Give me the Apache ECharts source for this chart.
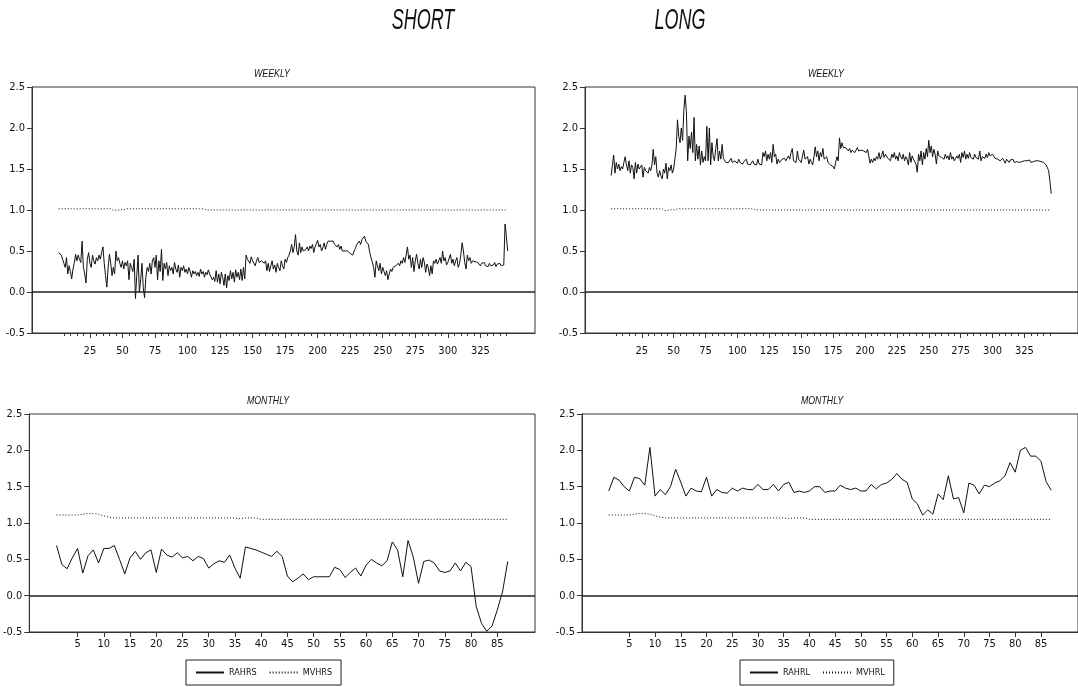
<!DOCTYPE html>
<html>
<head>
<meta charset="utf-8">
<script src="https://cdn.jsdelivr.net/npm/echarts@6/dist/echarts.min.js"></script>
<style>
html,body{margin:0;padding:0;background:#fff;}
#chart{width:1078px;height:687px;}
</style>
</head>
<body>
<div id="chart"></div>
<script>
// ---------- tick labels ----------
const weeklyTicks = [25,50,75,100,125,150,175,200,225,250,275,300,325];
const weeklyMinorTicks = [5,10,15,20,25,30,35,40,45,50,55,60,65,70,75,80,85,90,95,100,105,110,115,120,125,130,135,140,145,150,155,160,165,170,175,180,185,190,195,200,205,210,215,220,225,230,235,240,245,250,255,260,265,270,275,280,285,290,295,300,305,310,315,320,325,330,335,340,345];
const monthlyTicks = [5,10,15,20,25,30,35,40,45,50,55,60,65,70,75,80,85];

// ---------- WEEKLY, SHORT ----------
const rahrsWeekly = [
0.48,0.46,0.45,0.40,0.35,0.30,0.42,0.22,0.32,0.25,
0.16,0.28,0.35,0.46,0.38,0.45,0.40,0.36,0.62,0.30,
0.22,0.11,0.40,0.48,0.35,0.30,0.45,0.38,0.34,0.42,
0.38,0.45,0.40,0.48,0.55,0.35,0.20,0.06,0.30,0.46,
0.35,0.20,0.30,0.22,0.50,0.38,0.42,0.35,0.30,0.38,
0.28,0.36,0.32,0.38,0.15,0.35,0.30,0.25,0.40,-0.08,
0.20,0.45,0.00,0.15,0.35,0.05,-0.07,0.18,0.30,0.25,
0.35,0.22,0.38,0.42,0.30,0.45,0.15,0.38,0.25,0.52,
0.14,0.35,0.28,0.36,0.20,0.32,0.26,0.30,0.22,0.36,
0.28,0.24,0.33,0.18,0.30,0.26,0.32,0.24,0.28,0.22,
0.30,0.25,0.18,0.26,0.22,0.25,0.20,0.24,0.19,0.28,
0.22,0.25,0.18,0.24,0.21,0.27,0.22,0.20,0.15,0.18,
0.13,0.26,0.12,0.22,0.10,0.24,0.18,0.08,0.22,0.05,
0.20,0.14,0.26,0.16,0.24,0.12,0.27,0.18,0.24,0.15,
0.28,0.14,0.30,0.16,0.45,0.40,0.42,0.35,0.43,0.38,
0.40,0.32,0.38,0.42,0.36,0.34,0.38,0.40,0.35,0.38,
0.26,0.35,0.25,0.32,0.38,0.28,0.33,0.24,0.35,0.30,
0.26,0.38,0.32,0.28,0.40,0.36,0.42,0.45,0.50,0.58,
0.48,0.55,0.70,0.50,0.45,0.60,0.48,0.55,0.50,0.48,
0.52,0.55,0.50,0.56,0.53,0.58,0.48,0.55,0.57,0.63,
0.55,0.58,0.50,0.54,0.60,0.52,0.58,0.62,0.60,0.62,
0.63,0.62,0.58,0.60,0.55,0.58,0.52,0.56,0.50,0.52,
0.50,0.48,0.50,0.49,0.47,0.46,0.45,0.50,0.53,0.58,
0.60,0.62,0.58,0.64,0.65,0.68,0.62,0.64,0.58,0.48,
0.42,0.36,0.30,0.18,0.38,0.32,0.26,0.35,0.22,0.30,
0.25,0.20,0.26,0.15,0.22,0.28,0.25,0.30,0.28,0.32,
0.30,0.35,0.32,0.38,0.35,0.42,0.36,0.45,0.55,0.40,
0.45,0.30,0.42,0.25,0.38,0.46,0.35,0.28,0.40,0.30,
0.42,0.36,0.24,0.34,0.30,0.20,0.32,0.22,0.38,0.35,
0.40,0.34,0.38,0.42,0.35,0.50,0.38,0.42,0.33,0.36,
0.38,0.46,0.35,0.40,0.32,0.38,0.42,0.30,0.35,0.45,
0.60,0.50,0.36,0.28,0.45,0.38,0.42,0.35,0.38,0.36,
0.37,0.35,0.36,0.34,0.32,0.35,0.33,0.36,0.32,0.34,
0.31,0.35,0.32,0.34,0.33,0.36,0.31,0.34,0.33,0.35,
0.32,0.31,0.33,0.83,0.68,0.50
];
const mvhrsWeekly = [
1.015,1.015,1.015,1.015,1.015,1.015,1.015,1.015,1.015,1.015,
1.015,1.015,1.015,1.015,1.015,1.015,1.015,1.015,1.015,1.015,
1.015,1.015,1.015,1.015,1.015,1.015,1.015,1.015,1.015,1.015,
1.015,1.015,1.015,1.015,1.015,1.015,1.015,1.015,1.015,1.015,
1.015,1.00,0.995,1.00,0.995,1.00,1.00,0.995,1.005,1.00,
1.00,1.02,1.015,1.015,1.015,1.015,1.015,1.015,1.015,1.015,
1.015,1.015,1.015,1.015,1.015,1.015,1.015,1.015,1.015,1.015,
1.015,1.015,1.015,1.015,1.015,1.015,1.015,1.015,1.015,1.015,
1.015,1.015,1.015,1.015,1.015,1.015,1.015,1.015,1.015,1.015,
1.015,1.015,1.015,1.015,1.015,1.015,1.015,1.015,1.015,1.015,
1.015,1.015,1.015,1.015,1.015,1.015,1.015,1.015,1.015,1.015,
1.015,1.02,1.01,1.00,1.00,1.00,1.00,1.00,1.00,1.00,
1.00,1.00,1.00,1.00,1.00,1.00,1.00,1.00,1.00,1.00,
1.00,1.00,1.00,1.00,1.00,1.00,1.00,1.00,1.00,1.00,
1.00,1.00,1.00,1.00,1.00,1.00,1.00,1.00,1.00,1.00,
1.00,1.00,1.00,1.00,1.00,1.00,1.00,1.00,1.00,1.00,
1.00,1.00,1.00,1.00,1.00,1.00,1.00,1.00,1.00,1.00,
1.00,1.00,1.00,1.00,1.00,1.00,1.00,1.00,1.00,1.00,
1.00,1.00,1.00,1.00,1.00,1.00,1.00,1.00,1.00,1.00,
1.00,1.00,1.00,1.00,1.00,1.00,1.00,1.00,1.00,1.00,
1.00,1.00,1.00,1.00,1.00,1.00,1.00,1.00,1.00,1.00,
1.00,1.00,1.00,1.00,1.00,1.00,1.00,1.00,1.00,1.00,
1.00,1.00,1.00,1.00,1.00,1.00,1.00,1.00,1.00,1.00,
1.00,1.00,1.00,1.00,1.00,1.00,1.00,1.00,1.00,1.00,
1.00,1.00,1.00,1.00,1.00,1.00,1.00,1.00,1.00,1.00,
1.00,1.00,1.00,1.00,1.00,1.00,1.00,1.00,1.00,1.00,
1.00,1.00,1.00,1.00,1.00,1.00,1.00,1.00,1.00,1.00,
1.00,1.00,1.00,1.00,1.00,1.00,1.00,1.00,1.00,1.00,
1.00,1.00,1.00,1.00,1.00,1.00,1.00,1.00,1.00,1.00,
1.00,1.00,1.00,1.00,1.00,1.00,1.00,1.00,1.00,1.00,
1.00,1.00,1.00,1.00,1.00,1.00,1.00,1.00,1.00,1.00,
1.00,1.00,1.00,1.00,1.00,1.00,1.00,1.00,1.00,1.00,
1.00,1.00,1.00,1.00,1.00,1.00,1.00,1.00,1.00,1.00,
1.00,1.00,1.00,1.00,1.00,1.00,1.00,1.00,1.00,1.00,
1.00,1.00,1.00,1.00,1.00,1.00
];

// ---------- WEEKLY, LONG ----------
const rahrlWeekly = [
1.42,1.55,1.67,1.45,1.58,1.50,1.56,1.48,1.53,1.50,
1.58,1.65,1.55,1.48,1.60,1.45,1.55,1.52,1.38,1.58,
1.45,1.56,1.50,1.48,1.55,1.40,1.52,1.48,1.50,1.45,
1.52,1.48,1.55,1.74,1.55,1.65,1.45,1.40,1.48,1.42,
1.38,1.50,1.45,1.57,1.38,1.52,1.48,1.55,1.45,1.50,
1.48,1.75,2.10,1.90,1.82,2.00,1.85,2.22,2.40,2.20,
1.60,1.90,1.75,1.95,1.70,2.13,1.60,1.80,1.62,1.78,
1.55,1.72,1.58,1.65,1.60,2.02,1.60,2.00,1.55,1.82,
1.65,1.60,1.75,1.87,1.60,1.72,1.62,1.80,1.63,1.62,
1.58,1.60,1.58,1.57,1.63,1.58,1.57,1.60,1.58,1.57,
1.62,1.58,1.60,1.56,1.59,1.58,1.62,1.56,1.58,1.55,
1.57,1.60,1.56,1.58,1.55,1.62,1.56,1.58,1.55,1.70,
1.65,1.72,1.60,1.68,1.62,1.70,1.58,1.80,1.65,1.68,
1.56,1.62,1.58,1.60,1.62,1.60,1.63,1.60,1.62,1.66,
1.62,1.70,1.75,1.60,1.62,1.58,1.72,1.62,1.60,1.58,
1.66,1.73,1.62,1.60,1.65,1.56,1.62,1.58,1.55,1.65,
1.77,1.65,1.72,1.60,1.70,1.65,1.75,1.62,1.60,1.65,
1.58,1.60,1.55,1.57,1.53,1.50,1.58,1.65,1.60,1.88,
1.75,1.82,1.76,1.78,1.76,1.77,1.72,1.75,1.70,1.73,
1.75,1.70,1.68,1.76,1.72,1.70,1.73,1.75,1.72,1.74,
1.70,1.74,1.72,1.57,1.62,1.58,1.63,1.60,1.65,1.62,
1.70,1.62,1.66,1.72,1.64,1.68,1.66,1.63,1.65,1.60,
1.68,1.64,1.70,1.62,1.66,1.60,1.70,1.65,1.62,1.68,
1.60,1.65,1.62,1.55,1.70,1.58,1.66,1.62,1.60,1.56,
1.46,1.68,1.60,1.72,1.55,1.70,1.62,1.75,1.65,1.85,
1.70,1.78,1.65,1.74,1.68,1.56,1.72,1.66,1.68,1.64,
1.65,1.62,1.68,1.63,1.66,1.61,1.70,1.62,1.65,1.60,
1.62,1.66,1.63,1.68,1.58,1.70,1.64,1.72,1.62,1.68,
1.63,1.70,1.64,1.66,1.62,1.68,1.64,1.66,1.62,1.72,
1.60,1.65,1.66,1.63,1.68,1.64,1.70,1.66,1.64,1.68,
1.66,1.63,1.65,1.62,1.64,1.60,1.62,1.63,1.60,1.57,
1.62,1.60,1.58,1.61,1.59,1.62,1.58,1.60,1.59,1.61,
1.58,1.60,1.59,1.61,1.60,1.58,1.60,1.59,1.61,1.58,
1.60,1.59,1.61,1.60,1.58,1.60,1.61,1.59,1.60,1.58,
1.56,1.55,1.54,1.48,1.35,1.20
];
const mvhrlWeekly = [
1.015,1.015,1.015,1.015,1.015,1.015,1.015,1.015,1.015,1.015,
1.015,1.015,1.015,1.015,1.015,1.015,1.015,1.015,1.015,1.015,
1.015,1.015,1.015,1.015,1.015,1.015,1.015,1.015,1.015,1.015,
1.015,1.015,1.015,1.015,1.015,1.015,1.015,1.015,1.015,1.015,
1.015,1.00,0.995,1.00,0.995,1.00,1.00,0.995,1.005,1.00,
1.00,1.02,1.015,1.015,1.015,1.015,1.015,1.015,1.015,1.015,
1.015,1.015,1.015,1.015,1.015,1.015,1.015,1.015,1.015,1.015,
1.015,1.015,1.015,1.015,1.015,1.015,1.015,1.015,1.015,1.015,
1.015,1.015,1.015,1.015,1.015,1.015,1.015,1.015,1.015,1.015,
1.015,1.015,1.015,1.015,1.015,1.015,1.015,1.015,1.015,1.015,
1.015,1.015,1.015,1.015,1.015,1.015,1.015,1.015,1.015,1.015,
1.015,1.02,1.01,1.00,1.00,1.00,1.00,1.00,1.00,1.00,
1.00,1.00,1.00,1.00,1.00,1.00,1.00,1.00,1.00,1.00,
1.00,1.00,1.00,1.00,1.00,1.00,1.00,1.00,1.00,1.00,
1.00,1.00,1.00,1.00,1.00,1.00,1.00,1.00,1.00,1.00,
1.00,1.00,1.00,1.00,1.00,1.00,1.00,1.00,1.00,1.00,
1.00,1.00,1.00,1.00,1.00,1.00,1.00,1.00,1.00,1.00,
1.00,1.00,1.00,1.00,1.00,1.00,1.00,1.00,1.00,1.00,
1.00,1.00,1.00,1.00,1.00,1.00,1.00,1.00,1.00,1.00,
1.00,1.00,1.00,1.00,1.00,1.00,1.00,1.00,1.00,1.00,
1.00,1.00,1.00,1.00,1.00,1.00,1.00,1.00,1.00,1.00,
1.00,1.00,1.00,1.00,1.00,1.00,1.00,1.00,1.00,1.00,
1.00,1.00,1.00,1.00,1.00,1.00,1.00,1.00,1.00,1.00,
1.00,1.00,1.00,1.00,1.00,1.00,1.00,1.00,1.00,1.00,
1.00,1.00,1.00,1.00,1.00,1.00,1.00,1.00,1.00,1.00,
1.00,1.00,1.00,1.00,1.00,1.00,1.00,1.00,1.00,1.00,
1.00,1.00,1.00,1.00,1.00,1.00,1.00,1.00,1.00,1.00,
1.00,1.00,1.00,1.00,1.00,1.00,1.00,1.00,1.00,1.00,
1.00,1.00,1.00,1.00,1.00,1.00,1.00,1.00,1.00,1.00,
1.00,1.00,1.00,1.00,1.00,1.00,1.00,1.00,1.00,1.00,
1.00,1.00,1.00,1.00,1.00,1.00,1.00,1.00,1.00,1.00,
1.00,1.00,1.00,1.00,1.00,1.00,1.00,1.00,1.00,1.00,
1.00,1.00,1.00,1.00,1.00,1.00,1.00,1.00,1.00,1.00,
1.00,1.00,1.00,1.00,1.00,1.00,1.00,1.00,1.00,1.00,
1.00,1.00,1.00,1.00,1.00,1.00
];

// ---------- MONTHLY, SHORT ----------
const rahrsMonthly = [
0.69,0.43,0.37,0.52,0.65,0.31,0.55,0.63,0.45,0.65,
0.65,0.69,0.50,0.30,0.52,0.61,0.50,0.59,0.63,0.32,
0.64,0.56,0.53,0.59,0.52,0.54,0.48,0.54,0.51,0.38,
0.44,0.48,0.46,0.56,0.38,0.24,0.67,0.65,0.63,0.60,
0.57,0.54,0.61,0.54,0.27,0.19,0.24,0.30,0.22,0.26,
0.26,0.26,0.26,0.39,0.36,0.25,0.32,0.38,0.27,0.42,
0.50,0.45,0.41,0.48,0.74,0.63,0.26,0.76,0.53,0.17,
0.47,0.49,0.45,0.34,0.32,0.34,0.45,0.34,0.46,0.40,
-0.15,-0.38,-0.49,-0.42,-0.20,0.05,0.47
];
const mvhrsMonthly = [
1.11,1.11,1.11,1.11,1.11,1.12,1.13,1.13,1.12,1.10,
1.08,1.07,1.07,1.07,1.07,1.07,1.07,1.07,1.07,1.07,
1.07,1.07,1.07,1.07,1.07,1.07,1.07,1.07,1.07,1.07,
1.07,1.07,1.07,1.07,1.07,1.06,1.07,1.07,1.07,1.05,
1.05,1.05,1.05,1.05,1.05,1.05,1.05,1.05,1.05,1.05,
1.05,1.05,1.05,1.05,1.05,1.05,1.05,1.05,1.05,1.05,
1.05,1.05,1.05,1.05,1.05,1.05,1.05,1.05,1.05,1.05,
1.05,1.05,1.05,1.05,1.05,1.05,1.05,1.05,1.05,1.05,
1.05,1.05,1.05,1.05,1.05,1.05,1.05
];

// ---------- MONTHLY, LONG ----------
const rahrlMonthly = [
1.44,1.63,1.59,1.50,1.44,1.63,1.61,1.52,2.04,1.37,
1.46,1.39,1.50,1.74,1.56,1.37,1.48,1.44,1.43,1.63,
1.37,1.46,1.42,1.41,1.48,1.44,1.48,1.46,1.46,1.53,
1.46,1.46,1.53,1.44,1.53,1.56,1.42,1.44,1.42,1.44,
1.50,1.50,1.42,1.44,1.44,1.52,1.48,1.46,1.48,1.44,
1.44,1.53,1.47,1.53,1.55,1.60,1.68,1.60,1.56,1.33,
1.26,1.11,1.18,1.12,1.40,1.32,1.65,1.33,1.35,1.14,
1.55,1.52,1.40,1.52,1.50,1.55,1.58,1.65,1.83,1.70,
2.00,2.04,1.92,1.92,1.85,1.57,1.45
];
const mvhrlMonthly = [
1.11,1.11,1.11,1.11,1.11,1.12,1.13,1.13,1.12,1.10,
1.08,1.07,1.07,1.07,1.07,1.07,1.07,1.07,1.07,1.07,
1.07,1.07,1.07,1.07,1.07,1.07,1.07,1.07,1.07,1.07,
1.07,1.07,1.07,1.07,1.07,1.06,1.07,1.07,1.07,1.05,
1.05,1.05,1.05,1.05,1.05,1.05,1.05,1.05,1.05,1.05,
1.05,1.05,1.05,1.05,1.05,1.05,1.05,1.05,1.05,1.05,
1.05,1.05,1.05,1.05,1.05,1.05,1.05,1.05,1.05,1.05,
1.05,1.05,1.05,1.05,1.05,1.05,1.05,1.05,1.05,1.05,
1.05,1.05,1.05,1.05,1.05,1.05,1.05
];

// ---------- chart ----------
const NARROW = "'Liberation Sans Narrow','Arial Narrow','DejaVu Sans Condensed','Liberation Sans',sans-serif";
const INK = '#111';
const toPairs = arr => arr.map((v, i) => [i + 1, v]);

const grids = [
  {left: 32,  top: 87,  width: 503, height: 246},
  {left: 585, top: 87,  width: 503, height: 246},
  {left: 29,  top: 414, width: 506, height: 218},
  {left: 582, top: 414, width: 506, height: 218}
].map(g => Object.assign({show: true, borderColor: '#333', borderWidth: 1, backgroundColor: 'transparent'}, g));

function mainX(gridIndex, weekly) {
  return {
    type: 'value', gridIndex, position: 'bottom',
    min: weekly ? -19.5 : -4.2,
    max: weekly ? 367 : 92.2,
    axisLine: {show: true, onZero: false, lineStyle: {color: '#333', width: 1}},
    axisTick: {show: true, customValues: weekly ? weeklyTicks : monthlyTicks, length: 5, lineStyle: {color: '#333'}},
    axisLabel: {show: true, customValues: weekly ? weeklyTicks : monthlyTicks, margin: weekly ? 13 : 7,
      fontSize: 11, fontFamily: NARROW, color: INK},
    splitLine: {show: false}
  };
}
function minorX(gridIndex) {
  return {
    type: 'value', gridIndex, position: 'bottom', offset: 0, min: -19.5, max: 367,
    axisLine: {show: false, onZero: false},
    axisTick: {show: true, customValues: weeklyMinorTicks, length: 3, lineStyle: {color: '#333'}},
    axisLabel: {show: false},
    splitLine: {show: false}
  };
}
function yAx(gridIndex) {
  return {
    type: 'value', gridIndex, position: 'left', min: -0.5, max: 2.5, interval: 0.5,
    axisLine: {show: true, onZero: false, lineStyle: {color: '#333', width: 1}},
    axisTick: {show: true, length: 5, lineStyle: {color: '#333'}},
    axisLabel: {fontSize: 11, fontFamily: NARROW, color: INK, margin: 7, formatter: v => v.toFixed(1)},
    splitLine: {show: false}
  };
}
const zeroLine = {
  silent: true, symbol: ['none', 'none'], label: {show: false},
  lineStyle: {type: 'solid', color: '#222', width: 1.6},
  data: [{yAxis: 0}]
};
function solid(name, arr, idx, withZero) {
  const s = {
    name, type: 'line', xAxisIndex: idx, yAxisIndex: idx, data: toPairs(arr),
    symbol: 'none', showSymbol: false, silent: true,
    lineStyle: {color: INK, width: 1}, itemStyle: {color: INK}, z: 3
  };
  if (withZero) s.markLine = zeroLine;
  return s;
}
function dotted(name, arr, idx) {
  return {
    name, type: 'line', xAxisIndex: idx, yAxisIndex: idx, data: toPairs(arr),
    symbol: 'none', showSymbol: false, silent: true,
    lineStyle: {color: INK, width: 1, type: [1, 2]}, itemStyle: {color: INK}, z: 2
  };
}
function txt(text, x, y, size, sx) {
  return {type: 'text', x, y, scaleX: sx, silent: true,
    style: {text, fill: INK, font: 'italic ' + size + 'px "Liberation Sans", Arial, sans-serif',
      align: 'center', verticalAlign: 'middle', textAlign: 'center', textVerticalAlign: 'middle'}};
}
const legendBase = {
  orient: 'horizontal', itemWidth: 28, itemHeight: 8, itemGap: 12,
  padding: [8, 9], borderColor: '#222', borderWidth: 1, selectedMode: false,
  itemStyle: {opacity: 0},
  textStyle: {fontSize: 9, fontFamily: NARROW, color: INK}
};

const chart = echarts.init(document.getElementById('chart'), null, {renderer: 'canvas'});
chart.setOption({
  animation: false,
  backgroundColor: '#fff',
  grid: grids,
  xAxis: [mainX(0, true), mainX(1, true), mainX(2, false), mainX(3, false), minorX(0), minorX(1)],
  yAxis: [yAx(0), yAx(1), yAx(2), yAx(3)],
  legend: [
    Object.assign({data: ['RAHRS', 'MVHRS'], left: 186, top: 660}, legendBase),
    Object.assign({data: ['RAHRL', 'MVHRL'], left: 740, top: 660}, legendBase)
  ],
  graphic: [
    txt('SHORT', 423, 21, 30, 0.6),
    txt('LONG', 680, 21, 30, 0.6),
    txt('WEEKLY', 272, 74, 11, 0.8),
    txt('WEEKLY', 826, 74, 11, 0.8),
    txt('MONTHLY', 268, 401, 11, 0.8),
    txt('MONTHLY', 822, 401, 11, 0.8)
  ],
  series: [
    solid('RAHRS', rahrsWeekly, 0, true),
    dotted('MVHRS', mvhrsWeekly, 0),
    solid('RAHRL', rahrlWeekly, 1, true),
    dotted('MVHRL', mvhrlWeekly, 1),
    solid('RAHRS', rahrsMonthly, 2, true),
    dotted('MVHRS', mvhrsMonthly, 2),
    solid('RAHRL', rahrlMonthly, 3, true),
    dotted('MVHRL', mvhrlMonthly, 3)
  ]
});
</script>
</body>
</html>
